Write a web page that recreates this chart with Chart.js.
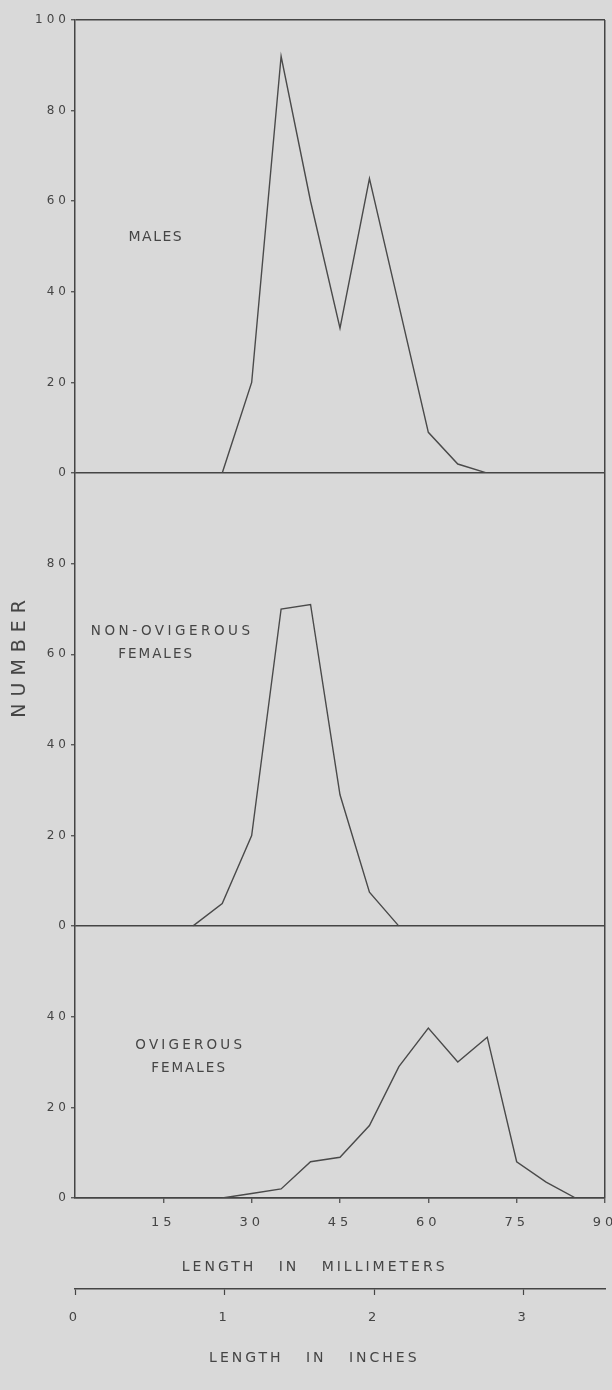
<!DOCTYPE html>
<html>
<head>
<meta charset="utf-8">
<script src="https://cdn.jsdelivr.net/npm/chart.js@4.4.1/dist/chart.umd.min.js"></script>
<style>
  html, body { margin: 0; padding: 0; background: #d9d9d9; }
  canvas { display: block; }
</style>
</head>
<body>
<canvas id="lengthChart" width="612" height="1390"></canvas>
<script>
// counts per 5 mm length class
const malesMm = [25, 30, 35, 40, 45, 50, 55, 60, 65, 70];
const males = [0, 20, 92, 60, 32, 65, 37, 9, 2, 0];

const nonOviMm = [20, 25, 30, 35, 40, 45, 50, 55];
const nonOvi = [0, 5, 20, 70, 71, 29, 7.5, 0];

const oviMm = [25, 30, 35, 40, 45, 50, 55, 60, 65, 70, 75, 80, 85];
const ovi = [0, 1, 2, 8, 9, 16, 29, 37.5, 30, 35.5, 8, 3.5, 0];

// tick labels
const mmTicks = [15, 30, 45, 60, 75, 90];
const inchTicks = [0, 1, 2, 3];
const topTicks = [0, 20, 40, 60, 80, 100];
const midTicks = [0, 20, 40, 60, 80];
const botTicks = [0, 20, 40];

const ink = '#454545';
const face = 'DejaVu Sans';

const pts = (xs, ys) => xs.map((x, i) => ({x: x, y: ys[i]}));
const setTicks = list => scale => { scale.ticks = list.map(v => ({value: v})); };

function yAxis(max, weight, ticks, frame) {
    return {
        type: 'linear',
        position: 'left',
        stack: 'panels',
        stackWeight: weight,
        min: 0,
        max: max,
        afterBuildTicks: setTicks(ticks),
        afterFit: s => { s.width = 75; },
        border: {color: ink, width: 1.5},
        grid: {
            color: c => (c.tick && frame.includes(c.tick.value)) ? ink : 'rgba(0,0,0,0)',
            lineWidth: 1.5,
            tickLength: 4,
            tickColor: ink,
            tickWidth: 1.2
        },
        ticks: {color: ink, font: {family: face, size: 12}, padding: 1}
    };
}

// panel captions, placed in data units
const notes = [
    {text: 'MALES', axis: 'yTop', x: 13.6, y: 52, size: 14, gap: 1.5},
    {text: 'NON-OVIGEROUS', axis: 'yMid', x: 16.2, y: 65, size: 13.5, gap: 3.5},
    {text: 'FEMALES', axis: 'yMid', x: 13.6, y: 60, size: 13.5, gap: 2},
    {text: 'OVIGEROUS', axis: 'yBot', x: 19.3, y: 33.6, size: 13.5, gap: 3.2},
    {text: 'FEMALES', axis: 'yBot', x: 19.2, y: 28.6, size: 13.5, gap: 2}
];

const spacingPlugin = {
    id: 'spacing',
    beforeUpdate(chart) { chart.ctx.letterSpacing = '4px'; },
    beforeDraw(chart) { chart.ctx.letterSpacing = '4px'; }
};

const textPlugin = {
    id: 'notes',
    afterDraw(chart) {
        const {ctx, scales} = chart;
        ctx.save();
        ctx.fillStyle = ink;
        ctx.textAlign = 'center';
        ctx.textBaseline = 'middle';
        notes.forEach(n => {
            ctx.font = n.size + 'px "' + face + '"';
            ctx.letterSpacing = n.gap + 'px';
            ctx.fillText(n.text, scales.x.getPixelForValue(n.x) + n.gap / 2, scales[n.axis].getPixelForValue(n.y));
        });

        // axis titles
        ctx.font = '14px "' + face + '"';
        ctx.letterSpacing = '3px';
        ctx.fillText('LENGTH   IN   MILLIMETERS', scales.x.getPixelForValue(40.7), scales.x.top + 69);
        ctx.fillText('LENGTH   IN   INCHES', scales.x2.getPixelForValue(1.6), scales.x2.top + 69);

        ctx.font = '19px "' + face + '"';
        ctx.letterSpacing = '7px';
        ctx.translate(20, scales.yMid.getPixelForValue(59));
        ctx.rotate(-Math.PI / 2);
        ctx.fillText('NUMBER', 3.5, 0);
        ctx.restore();
    }
};

const line = {borderColor: '#4a4a4a', borderWidth: 1.4, pointRadius: 0, tension: 0, fill: false};

const ctx = document.getElementById('lengthChart').getContext('2d');
const lengthChart = new Chart(ctx, {
    type: 'line',
    data: {
        datasets: [
            Object.assign({label: 'Males', data: pts(malesMm, males), yAxisID: 'yTop'}, line),
            Object.assign({label: 'Non-ovigerous females', data: pts(nonOviMm, nonOvi), yAxisID: 'yMid'}, line),
            Object.assign({label: 'Ovigerous females', data: pts(oviMm, ovi), yAxisID: 'yBot'}, line)
        ]
    },
    options: {
        responsive: false,
        animation: false,
        layout: {padding: {top: 20, right: 7, bottom: 20, left: 0}},
        plugins: {legend: {display: false}, tooltip: {enabled: false}},
        scales: {
            x: {
                type: 'linear',
                position: 'bottom',
                weight: 0,
                min: 0,
                max: 90,
                afterBuildTicks: setTicks(mmTicks),
                afterFit: s => { s.height = 91; s.paddingLeft = 0; s.paddingRight = 0; },
                border: {color: ink, width: 1.5},
                grid: {
                    color: c => (c.tick && c.tick.value === 90) ? ink : 'rgba(0,0,0,0)',
                    lineWidth: 1.5,
                    tickLength: 5,
                    tickColor: ink,
                    tickWidth: 1.2
                },
                ticks: {color: ink, font: {family: face, size: 13}, padding: 12, maxRotation: 0, autoSkip: false}
            },
            x2: {
                type: 'linear',
                position: 'bottom',
                weight: 1,
                min: 0,
                max: 90 / 25.4,
                afterBuildTicks: setTicks(inchTicks),
                afterFit: s => { s.height = 81; s.paddingLeft = 0; s.paddingRight = 0; },
                border: {color: ink, width: 1.5},
                grid: {drawOnChartArea: false, tickLength: 6, tickColor: ink, tickWidth: 1.2},
                ticks: {color: ink, font: {family: face, size: 13}, padding: 15, maxRotation: 0, autoSkip: false}
            },
            yBot: yAxis(60, 60, botTicks, [0]),
            yMid: yAxis(100, 100, midTicks, [0]),
            yTop: yAxis(100, 100, topTicks, [0, 100])
        }
    },
    plugins: [spacingPlugin, textPlugin]
});
</script>
</body>
</html>
